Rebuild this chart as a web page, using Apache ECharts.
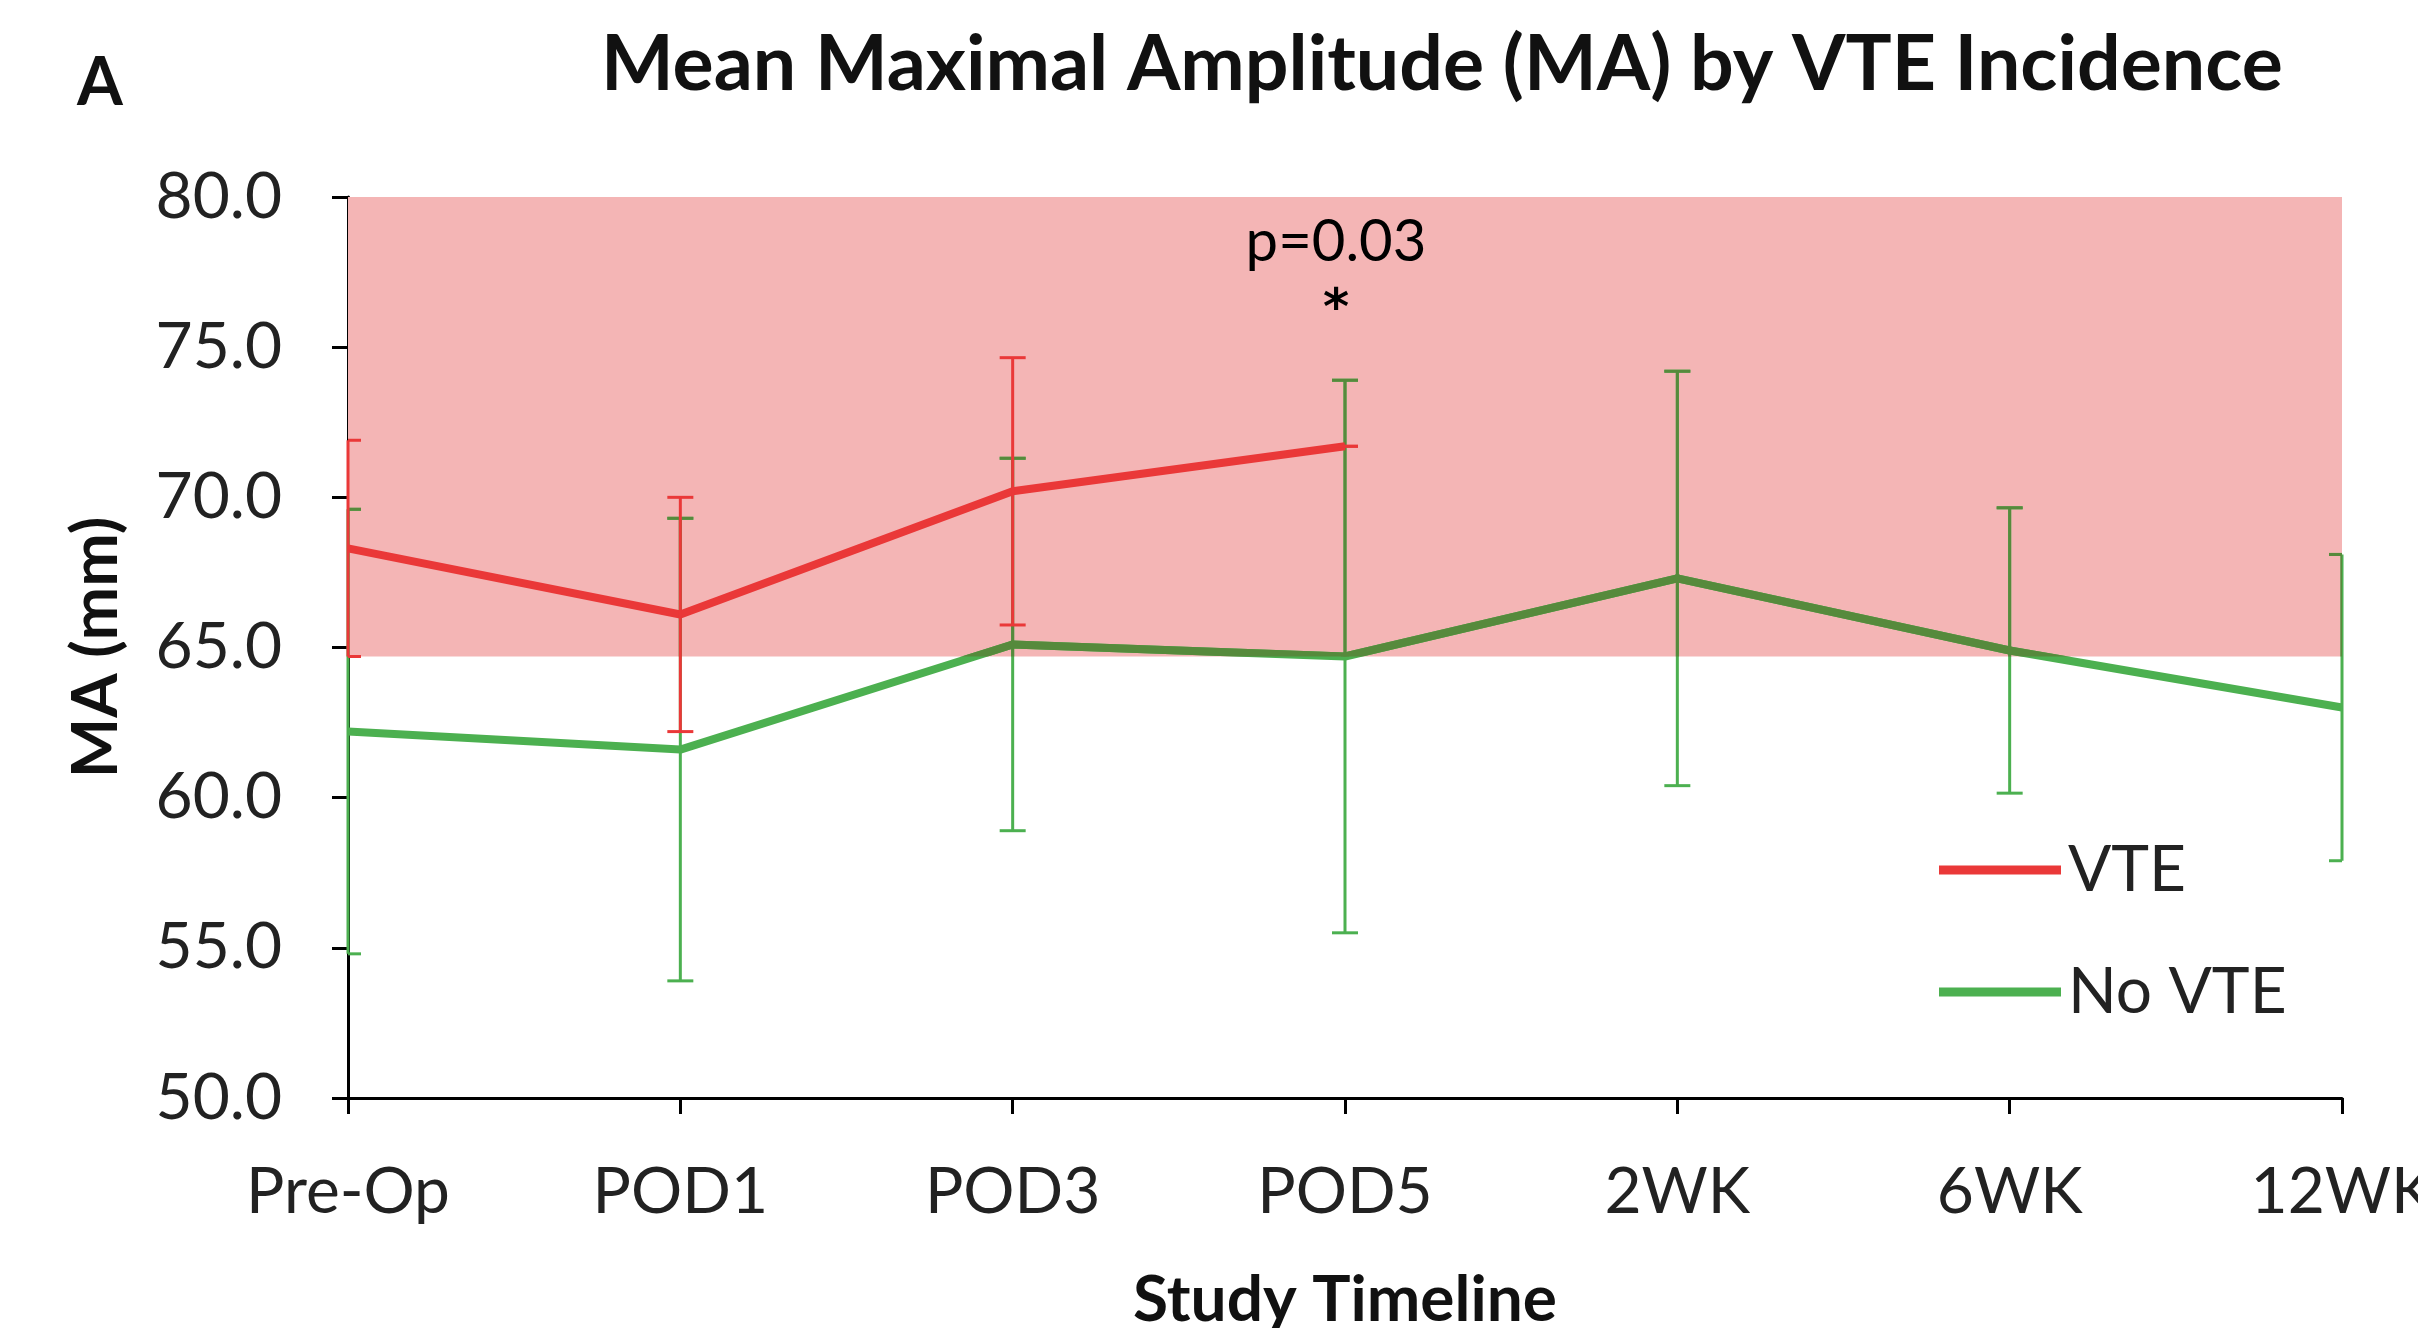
<!DOCTYPE html>
<html>
<head>
<meta charset="utf-8">
<script src="https://cdn.jsdelivr.net/npm/echarts@6/dist/echarts.min.js"></script>
<style>
  html, body { margin: 0; padding: 0; background: #fff; }
  #chart { width: 2418px; height: 1328px; }
</style>
</head>
<body>
<div id="chart"></div>
<script>
// values
const categories = ["Pre-Op", "POD1", "POD3", "POD5", "2WK", "6WK", "12WK"];
const vteMean = [68.3, 66.1, 70.2, 71.7, null, null, null];
const vteErr = [3.6, 3.9, 4.45, 0, null, null, null];
const noVteMean = [62.2, 61.6, 65.1, 64.7, 67.3, 64.9, 63.0];
const noVteErr = [7.4, 7.7, 6.2, 9.2, 6.9, 4.75, 5.1];
const yTicks = [50, 55, 60, 65, 70, 75, 80];
const band = [64.7, 80]; // hypercoagulable range shading
const notes = [[3, 78.5, "p=0.03"], [3, 76.6, "*"]];

const RED = "#EA3838";
const GREEN = "#4CB050";
const GREEN_IN_BAND = "#568A3C";
const PINK = "#F4B5B5";
const FONT = "Lato";

const errData = (mean, err) =>
  mean.map((m, i) => (m == null ? null : [i, m - err[i], m + err[i]])).filter(Boolean);

const errorBarShapes = (lo, hi, cs, color) => {
  const half = 13;
  const l = Math.max(lo[0] - half, cs.x);
  const r = Math.min(lo[0] + half, cs.x + cs.width);
  const style = { stroke: color, lineWidth: 3 };
  return [
    { type: "line", shape: { x1: hi[0], y1: hi[1], x2: lo[0], y2: lo[1] }, style },
    { type: "line", shape: { x1: l, y1: hi[1], x2: r, y2: hi[1] }, style },
    { type: "line", shape: { x1: l, y1: lo[1], x2: r, y2: lo[1] }, style }
  ];
};

const errorBars = color => (params, api) => {
  const x = api.value(0);
  const lo = api.coord([x, api.value(1)]);
  const hi = api.coord([x, api.value(2)]);
  return { type: "group", children: errorBarShapes(lo, hi, params.coordSys, color) };
};

// where the green series runs through the pink band it reads darker
const greenInBand = (params, api) => {
  const i = api.value(0);
  const lo = api.coord([i, api.value(1)]);
  const hi = api.coord([i, api.value(2)]);
  const a = api.coord([0, band[1]]);
  const b = api.coord([categories.length - 1, band[0]]);
  const children = errorBarShapes(lo, hi, params.coordSys, GREEN_IN_BAND);
  if (i < noVteMean.length - 1) {
    const p0 = api.coord([i, noVteMean[i]]);
    const p1 = api.coord([i + 1, noVteMean[i + 1]]);
    children.push({
      type: "line",
      shape: { x1: p0[0], y1: p0[1], x2: p1[0], y2: p1[1] },
      style: { stroke: GREEN_IN_BAND, lineWidth: 8, lineCap: "round" }
    });
  }
  return {
    type: "group",
    clipPath: { type: "rect", shape: { x: a[0], y: a[1], width: b[0] - a[0], height: b[1] - a[1] } },
    children
  };
};

const chart = echarts.init(document.getElementById("chart"), null, { renderer: "canvas" });

chart.setOption({
  animation: false,
  backgroundColor: "#fff",
  textStyle: { fontFamily: FONT },
  title: [
    {
      text: "Mean Maximal Amplitude (MA) by VTE Incidence",
      left: 596,
      top: 22,
      textStyle: { fontFamily: FONT, fontWeight: "bold", fontSize: 77, color: "#111" }
    },
    {
      text: "A",
      left: 72,
      top: 46,
      textStyle: { fontFamily: FONT, fontWeight: "bold", fontSize: 66, color: "#111" }
    }
  ],
  legend: {
    orient: "vertical",
    left: 1934,
    top: 828,
    icon: "rect",
    itemWidth: 122,
    itemHeight: 9,
    itemGap: 48,
    data: ["VTE", "No VTE"],
    textStyle: { fontFamily: FONT, fontSize: 64, color: "#222", lineHeight: 74, padding: [0, 0, 0, 2] }
  },
  grid: { left: 348, right: 76, top: 197, bottom: 230, outerBoundsMode: "none", containLabel: false },
  xAxis: {
    type: "category",
    data: categories,
    boundaryGap: false,
    name: "Study Timeline",
    nameLocation: "middle",
    nameGap: 170,
    nameTextStyle: { fontFamily: FONT, fontWeight: "bold", fontSize: 64, color: "#111" },
    axisLine: { lineStyle: { color: "#000", width: 3 } },
    axisTick: { alignWithLabel: true, length: 16, lineStyle: { color: "#000", width: 3 } },
    axisLabel: { margin: 62, fontFamily: FONT, fontSize: 64, color: "#222" },
    splitLine: { show: false }
  },
  yAxis: {
    type: "value",
    min: yTicks[0],
    max: yTicks[yTicks.length - 1],
    interval: yTicks[1] - yTicks[0],
    name: "MA (mm)",
    nameLocation: "middle",
    nameGap: 220,
    nameRotate: 90,
    nameTextStyle: { fontFamily: FONT, fontWeight: "bold", fontSize: 64, color: "#111" },
    axisLine: { show: true, lineStyle: { color: "#000", width: 3 } },
    axisTick: { show: true, length: 16, lineStyle: { color: "#000", width: 3 } },
    axisLabel: { margin: 66, fontFamily: FONT, fontSize: 64, color: "#222", formatter: v => v.toFixed(1) },
    splitLine: { show: false }
  },
  series: [
    {
      name: "band",
      type: "custom",
      data: [[0, band[0], categories.length - 1, band[1]]],
      encode: { x: [0, 2], y: [1, 3] },
      silent: true,
      z: 1,
      renderItem: (params, api) => {
        const a = api.coord([api.value(0), api.value(3)]);
        const b = api.coord([api.value(2), api.value(1)]);
        return {
          type: "rect",
          shape: { x: a[0], y: a[1], width: b[0] - a[0], height: b[1] - a[1] },
          style: { fill: PINK }
        };
      }
    },
    {
      name: "No VTE",
      type: "line",
      data: noVteMean,
      color: GREEN,
      symbol: "none",
      z: 3,
      lineStyle: { width: 8, color: GREEN }
    },
    {
      name: "No VTE err",
      type: "custom",
      data: errData(noVteMean, noVteErr),
      encode: { x: 0, y: [1, 2] },
      renderItem: errorBars(GREEN),
      z: 4
    },
    {
      name: "No VTE shaded",
      type: "custom",
      data: errData(noVteMean, noVteErr),
      encode: { x: 0, y: [1, 2] },
      renderItem: greenInBand,
      silent: true,
      z: 5
    },
    {
      name: "VTE",
      type: "line",
      data: vteMean,
      color: RED,
      symbol: "none",
      z: 6,
      lineStyle: { width: 8, color: RED }
    },
    {
      name: "VTE err",
      type: "custom",
      data: errData(vteMean, vteErr),
      encode: { x: 0, y: [1, 2] },
      renderItem: errorBars(RED),
      z: 7
    },
    {
      name: "notes",
      type: "custom",
      data: notes,
      encode: { x: 0, y: 1 },
      silent: true,
      z: 8,
      renderItem: (params, api) => {
        const p = api.coord([api.value(0), api.value(1)]);
        const txt = notes[params.dataIndex][2];
        const star = txt === "*";
        return {
          type: "text",
          x: p[0] - 9,
          y: star ? p[1] + 12 : p[1],
          style: {
            text: txt,
            fill: "#000",
            fontFamily: star ? "DejaVu Sans" : FONT,
            fontWeight: "bold",
            fontSize: star ? 50 : 58,
            align: "center",
            verticalAlign: "middle",
            ...(star ? {} : { fontWeight: "normal" })
          }
        };
      }
    }
  ]
});
</script>
</body>
</html>
